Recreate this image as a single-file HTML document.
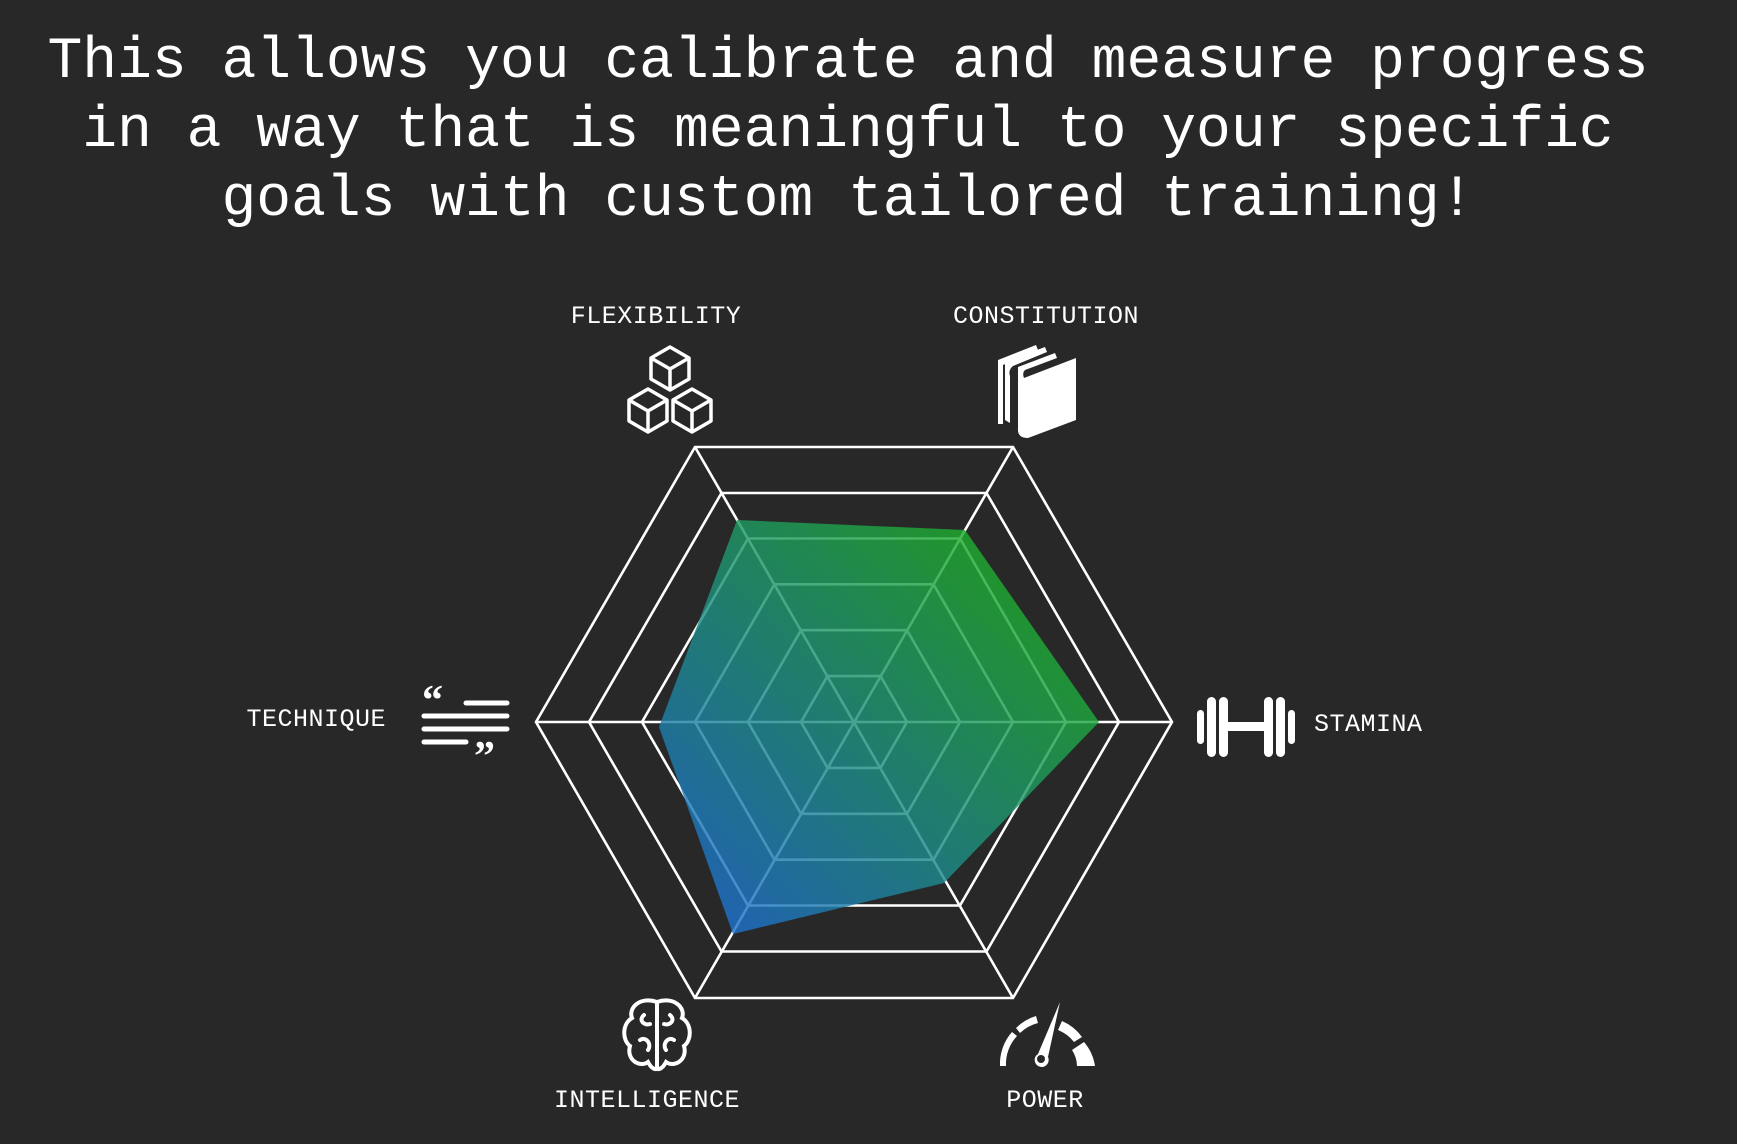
<!DOCTYPE html>
<html><head><meta charset="utf-8"><style>
html,body{margin:0;padding:0;background:#282828;}
body{width:1737px;height:1144px;overflow:hidden;position:relative;}
.t{position:absolute;left:0;top:28px;width:1696px;text-align:center;color:#fff;font-family:"Liberation Mono",monospace;font-size:58px;line-height:69px;}
svg{position:absolute;left:0;top:0;}
.l{font-family:"Liberation Mono",monospace;font-size:25px;fill:#fff;letter-spacing:0.5px;}
</style></head><body>
<div class="t">This allows you calibrate and measure progress<br>in a way that is meaningful to your specific<br>goals with custom tailored training!</div>
<svg width="1737" height="1144" viewBox="0 0 1737 1144">
<defs>
<linearGradient id="g" x1="1" y1="0" x2="0" y2="1">
<stop offset="0.15" stop-color="#1fae2a"/>
<stop offset="1" stop-color="#1e6ae0"/>
</linearGradient>
</defs>
<g fill="none" stroke="#fff" stroke-width="2.6">
<polygon points="1172,722 1013,447 695,447 536,722 695,998 1013,998"/>
<polygon points="1119,722 986.5,493 721.5,493 589,722 721.5,951.5 986.5,951.5"/>
<polygon points="1066,722 960,538.5 748,538.5 642,722 748,905.5 960,905.5"/>
<polygon points="1013,722 933.5,584.3 774.5,584.3 695,722 774.5,859.7 933.5,859.7"/>
<polygon points="960,722 907,630.2 801,630.2 748,722 801,813.8 907,813.8"/>
<polygon points="907,722 880.5,676.1 827.5,676.1 801,722 827.5,767.9 880.5,767.9"/>
<line x1="536" y1="722" x2="1172" y2="722"/>
<line x1="695" y1="447" x2="1013" y2="998"/>
<line x1="1013" y1="447" x2="695" y2="998"/>
</g>
<polygon points="737,520 965,530 1099,722 944,883 733,934 659,727" fill="url(#g)" opacity="0.82"/>
<text class="l" x="656" y="323" text-anchor="middle">FLEXIBILITY</text>
<text class="l" x="1046" y="323" text-anchor="middle">CONSTITUTION</text>
<text class="l" x="386" y="726" text-anchor="end">TECHNIQUE</text>
<text class="l" x="1314" y="731">STAMINA</text>
<text class="l" x="647" y="1107" text-anchor="middle">INTELLIGENCE</text>
<text class="l" x="1045" y="1107" text-anchor="middle">POWER</text>
<!-- cubes -->
<g fill="none" stroke="#fff" stroke-width="3.5" stroke-linejoin="round">
<g transform="translate(670,368)"><polygon points="0,-21 19,-10 19,11 0,22 -19,11 -19,-10"/><polyline points="-19,-10 0,1 19,-10"/><line x1="0" y1="1" x2="0" y2="22"/></g>
<g transform="translate(648,410)"><polygon points="0,-21 19,-10 19,11 0,22 -19,11 -19,-10"/><polyline points="-19,-10 0,1 19,-10"/><line x1="0" y1="1" x2="0" y2="22"/></g>
<g transform="translate(692,410)"><polygon points="0,-21 19,-10 19,11 0,22 -19,11 -19,-10"/><polyline points="-19,-10 0,1 19,-10"/><line x1="0" y1="1" x2="0" y2="22"/></g>
</g>
<!-- books -->
<g fill="#fff">
<path d="M998,360 L1036,345 L1038,350 L1003,365 L1003,424 L998,424 Z"/>
<path d="M1005,362 L1045,347 L1047,352 L1013,366 Q1008,370 1010,376 L1010,423 L1005,420 Z"/>
<path d="M1018,367 L1055,353 L1057,358 L1025,370 Q1022,373 1024,378 L1076,358 L1076,420 L1028,438 Q1017,438 1018,428 Z"/>
</g>
<!-- technique icon -->
<g fill="none" stroke="#fff" stroke-width="5" stroke-linecap="round">
<line x1="466" y1="703" x2="507" y2="703"/>
<line x1="424" y1="716" x2="507" y2="716"/>
<line x1="424" y1="729" x2="507" y2="729"/>
<line x1="424" y1="742" x2="466" y2="742"/>
</g>
<text x="422" y="714" fill="#fff" font-family="Liberation Serif,serif" font-size="42" font-weight="bold">“</text>
<text x="474" y="770" fill="#fff" font-family="Liberation Serif,serif" font-size="42" font-weight="bold">”</text>
<!-- dumbbell -->
<g fill="#fff">
<rect x="1197" y="710" width="7" height="34" rx="3.5"/>
<rect x="1207" y="697" width="9" height="60" rx="4.5"/>
<rect x="1219" y="697" width="9" height="60" rx="4.5"/>
<rect x="1228" y="722" width="36" height="9"/>
<rect x="1264" y="697" width="9" height="60" rx="4.5"/>
<rect x="1276" y="697" width="9" height="60" rx="4.5"/>
<rect x="1288" y="710" width="7" height="34" rx="3.5"/>
</g>
<!-- brain -->
<g fill="none" stroke="#fff" stroke-width="4" stroke-linecap="round">
<path d="M657,1002 C640,996 628,1008 632,1018 C622,1024 622,1040 630,1046 C626,1060 640,1068 648,1062 C652,1070 657,1070 657,1068 Z"/>
<path d="M657,1002 C674,996 686,1008 682,1018 C692,1024 692,1040 684,1046 C688,1060 674,1068 666,1062 C662,1070 657,1070 657,1068"/>
<path d="M644,1015 C638,1020 644,1026 650,1024"/><path d="M640,1040 C646,1036 652,1044 648,1050"/>
<path d="M670,1015 C676,1020 670,1026 664,1024"/><path d="M674,1040 C668,1036 662,1044 666,1050"/>
</g>
<!-- gauge -->
<g fill="#fff">
<path d="M1000,1066 A48,48 0 0 1 1012,1032 L1017,1036 A41,41 0 0 0 1006,1066 Z" opacity="1"/>
<path d="M1016,1028 A48,48 0 0 1 1036,1016 L1038,1023 A41,41 0 0 0 1020,1033 Z"/>
<path d="M1062,1021 A48,48 0 0 1 1082,1037 L1074,1042 A38,38 0 0 0 1058,1030 Z"/>
<path d="M1084,1042 A48,48 0 0 1 1095,1066 L1077,1066 A30,30 0 0 0 1072,1050 Z"/>
<path d="M1060,1002 L1048,1057 A7,7 0 1 1 1038,1054 Z"/>
</g>
<circle cx="1041" cy="1059" r="4" fill="#282828"/>
</svg>
</body></html>
